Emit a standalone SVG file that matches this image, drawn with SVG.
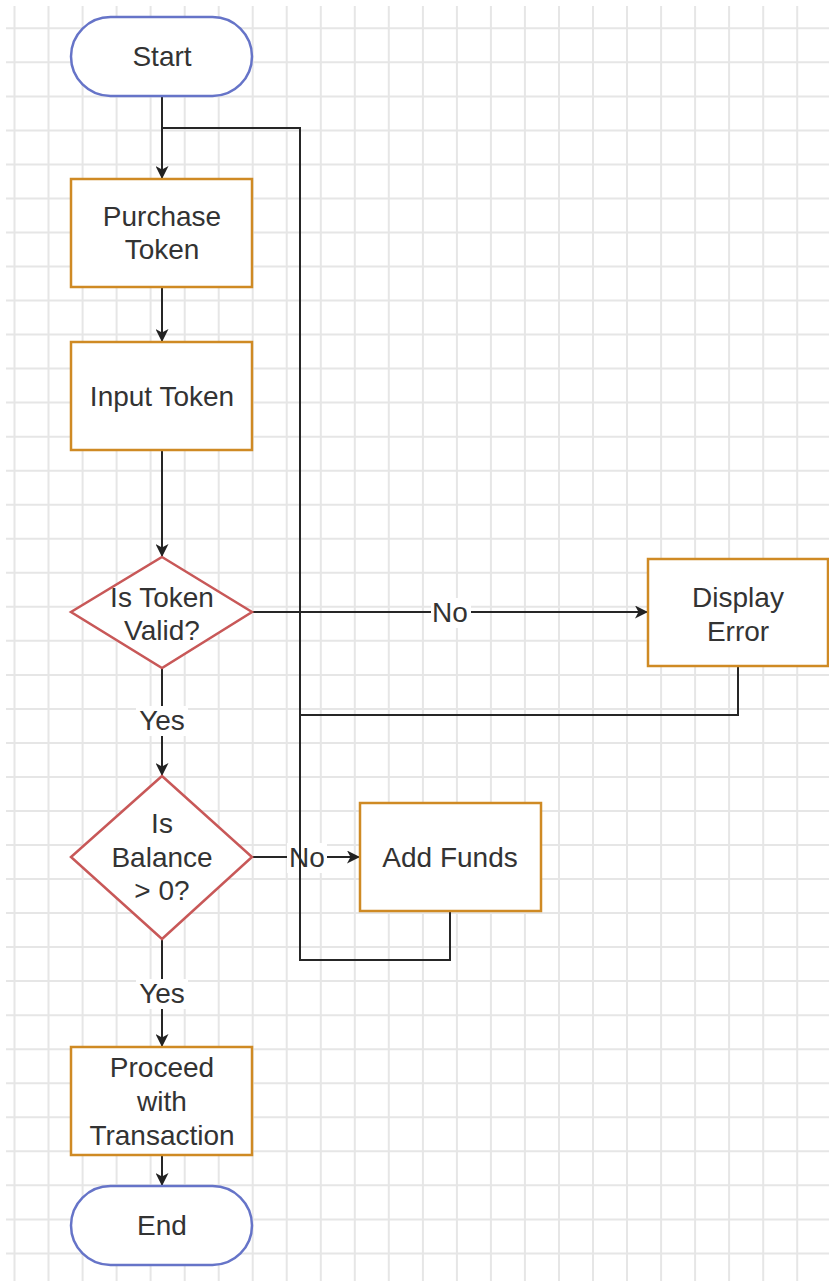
<svg xmlns="http://www.w3.org/2000/svg" width="829" height="1281" viewBox="0 0 829 1281">
  <defs>
    <marker id="arrow" viewBox="0 0 13 13" refX="12" refY="6.5" markerWidth="13" markerHeight="13" markerUnits="userSpaceOnUse" orient="auto">
      <path d="M0,0 L13,6.5 L0,13 L3.5,6.5 Z" fill="#222"/>
    </marker>
  </defs>
  <style>
    .grid { fill: none; stroke: #e6e6e6; stroke-width: 2; }
    .term { fill: #fff; stroke: #6674c8; stroke-width: 2.5; }
    .proc { fill: #fff; stroke: #cf8a24; stroke-width: 2.5; }
    .dec { fill: #fff; stroke: #c85858; stroke-width: 2.5; }
    .edge { fill: none; stroke: #262626; stroke-width: 2; }
    .lbl-bg { fill: #fff; }
    text { font-family: "Liberation Sans", Arial, sans-serif; font-size: 28px; fill: #333; text-anchor: middle; }
  </style>

  <rect width="829" height="1281" fill="#fff"/>
  <!-- background grid, 34px cells -->
  <path class="grid" d="M14.5,6V1281 M48.5,6V1281 M82.6,6V1281 M116.6,6V1281 M150.6,6V1281 M184.7,6V1281 M218.7,6V1281 M252.7,6V1281 M286.7,6V1281 M320.8,6V1281 M354.8,6V1281 M388.8,6V1281 M422.9,6V1281 M456.9,6V1281 M490.9,6V1281 M524.9,6V1281 M559,6V1281 M593,6V1281 M627,6V1281 M661.1,6V1281 M695.1,6V1281 M729.1,6V1281 M763.2,6V1281 M797.2,6V1281
    M6,28.3H829 M6,62.3H829 M6,96.4H829 M6,130.4H829 M6,164.4H829 M6,198.5H829 M6,232.5H829 M6,266.5H829 M6,300.5H829 M6,334.6H829 M6,368.6H829 M6,402.6H829 M6,436.7H829 M6,470.7H829 M6,504.7H829 M6,538.8H829 M6,572.8H829 M6,606.8H829 M6,640.8H829 M6,674.9H829 M6,708.9H829 M6,742.9H829 M6,777H829 M6,811H829 M6,845H829 M6,879.1H829 M6,913.1H829 M6,947.1H829 M6,981.1H829 M6,1015.2H829 M6,1049.2H829 M6,1083.2H829 M6,1117.3H829 M6,1151.3H829 M6,1185.3H829 M6,1219.4H829 M6,1253.4H829"/>

  <g id="connectors">
    <path class="edge" d="M162,96 V178" marker-end="url(#arrow)"/>
    <path class="edge" d="M162,287 V341" marker-end="url(#arrow)"/>
    <path class="edge" d="M162,450 V556" marker-end="url(#arrow)"/>
    <path class="edge" d="M252,612 H647" marker-end="url(#arrow)"/>
    <rect class="lbl-bg" x="431" y="598" width="40" height="30"/>
    <text x="450" y="622">No</text>
    <path class="edge" d="M162,668 V775" marker-end="url(#arrow)"/>
    <rect class="lbl-bg" x="136" y="706" width="52" height="30"/>
    <text x="162" y="730">Yes</text>
    <path class="edge" d="M252,857 H359" marker-end="url(#arrow)"/>
    <rect class="lbl-bg" x="287" y="843" width="40" height="30"/>
    <text x="307" y="867">No</text>
    <path class="edge" d="M162,939 V1046" marker-end="url(#arrow)"/>
    <rect class="lbl-bg" x="136" y="979" width="52" height="30"/>
    <text x="162" y="1003">Yes</text>
    <path class="edge" d="M162,1155 V1185" marker-end="url(#arrow)"/>
    <!-- return paths back into Purchase Token -->
    <path class="edge" d="M738,666 V715 H300 V128 H162"/>
    <path class="edge" d="M450,911 V960 H300 V715"/>
  </g>

  <g id="start">
    <rect class="term" x="71" y="17" width="181" height="79" rx="39.5"/>
    <text x="162" y="66">Start</text>
  </g>

  <g id="purchase-token">
    <rect class="proc" x="71" y="179" width="181" height="108"/>
    <text x="162" y="226">Purchase</text>
    <text x="162" y="259">Token</text>
  </g>

  <g id="input-token">
    <rect class="proc" x="71" y="342" width="181" height="108"/>
    <text x="162" y="406">Input Token</text>
  </g>

  <g id="token-valid">
    <polygon class="dec" points="162,557 252,612 162,668 71,612"/>
    <text x="162" y="607">Is Token</text>
    <text x="162" y="640">Valid?</text>
  </g>

  <g id="display-error">
    <rect class="proc" x="648" y="559" width="180" height="107"/>
    <text x="738" y="607">Display</text>
    <text x="738" y="641">Error</text>
  </g>

  <g id="balance-check">
    <polygon class="dec" points="162,776 252,857 162,939 71,857"/>
    <text x="162" y="833">Is</text>
    <text x="162" y="867">Balance</text>
    <text x="162" y="900">&gt; 0?</text>
  </g>

  <g id="add-funds">
    <rect class="proc" x="360" y="803" width="181" height="108"/>
    <text x="450" y="867">Add Funds</text>
  </g>

  <g id="proceed">
    <rect class="proc" x="71" y="1047" width="181" height="108"/>
    <text x="162" y="1077">Proceed</text>
    <text x="162" y="1111">with</text>
    <text x="162" y="1145">Transaction</text>
  </g>

  <g id="end">
    <rect class="term" x="71" y="1186" width="181" height="79" rx="39.5"/>
    <text x="162" y="1235">End</text>
  </g>
</svg>
